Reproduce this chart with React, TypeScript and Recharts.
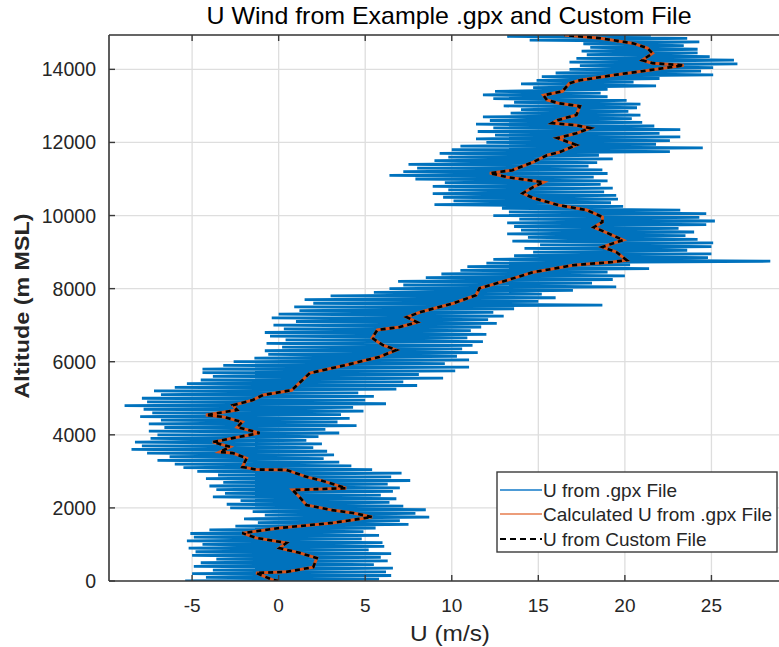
import React from 'react';
import { ComposedChart, Line, XAxis, YAxis, CartesianGrid } from 'recharts';

// ---- data ----
const xTicks = [-5, 0, 5, 10, 15, 20, 25];
const yTicks = [0, 2000, 4000, 6000, 8000, 10000, 12000, 14000];
const X_DOMAIN: [number, number] = [-9.8, 30];
const ALT_MAX = 14940;

// smoothed / custom-file profile (altitude m, U m/s)
const customAlt = [0, 30, 220, 250, 380, 630, 770, 900, 1040, 1180, 1310, 1450, 1590, 1750, 1860, 1940, 2080, 2300, 2490, 2540, 2760, 2850, 3040, 3050, 3120, 3360, 3500, 3530, 3670, 3800, 3910, 4050, 4210, 4350, 4490, 4540, 4680, 4810, 4950, 5090, 5220, 5420, 5690, 5910, 6130, 6320, 6460, 6650, 6870, 6950, 7080, 7220, 7360, 7600, 7820, 8010, 8230, 8450, 8640, 8730, 8780, 9000, 9140, 9330, 9520, 9680, 9820, 9960, 10150, 10280, 10480, 10610, 10780, 10910, 11050, 11160, 11240, 11460, 11650, 11730, 11930, 12120, 12250, 12390, 12470, 12530, 12610, 12750, 12990, 13070, 13160, 13290, 13400, 13620, 13700, 13840, 13950, 14030, 14110, 14170, 14250, 14440, 14580, 14710, 14850, 14940];
const customU = [0, -0.35, -1.3, 0.45, 2.0, 2.2, 1.2, 0.05, 0.45, -1.3, -2.1, 0.05, 3.1, 5.4, 4.3, 3.1, 1.6, 1.2, 0.8, 3.9, 2.4, 1.6, 0.45, -1.3, -2.1, -1.85, -2.65, -3.4, -2.8, -3.8, -2.65, -1.1, -2.4, -2.1, -3.2, -4.2, -2.4, -2.65, -1.5, -0.9, 0.75, 1.2, 1.8, 3.9, 5.8, 6.8, 6.0, 5.4, 5.7, 7.0, 8.0, 7.4, 8.2, 10.1, 11.4, 11.6, 13.2, 14.7, 17.0, 19.3, 20.1, 19.5, 18.7, 19.9, 19.0, 18.2, 18.7, 18.7, 17.8, 16.2, 14.7, 14.1, 14.7, 15.3, 13.2, 12.2, 13.5, 14.7, 15.5, 16.2, 17.2, 16.1, 17.2, 18.0, 17.2, 15.8, 16.1, 17.2, 17.4, 16.2, 15.5, 15.3, 16.4, 16.8, 17.4, 19.3, 21.0, 22.2, 23.4, 21.6, 21.0, 21.6, 21.3, 20.5, 18.6, 16.5];
const calcAlt = customAlt;
const calcU = customU;

// raw .gpx U, sampled every 50 m of altitude
const GPX_STEP = 50;
const gpxU = [
  -5.4, 5.8, -4.2, 6.5, -5.0, 6.2, -3.8, 6.6, -4.9, 5.5,
  -4.5, 6.3, -3.6, 5.9, -5.0, 6.5, -4.8, 5.2, -5.2, 6.1,
  -4.4, 6.0, -5.3, 4.8, -4.9, 5.8, -5.1, 4.9, -4.0, 5.6,
  -2.5, 7.5, -1.2, 7.0, -2.0, 8.7, -0.8, 7.9, -1.5, 8.5,
  -2.8, 7.2, -3.0, 6.4, -2.2, 6.8, -3.8, 5.9, -3.1, 6.6,
  -3.6, 7.0, -4.0, 6.3, -3.2, 7.6, -4.2, 6.5, -3.5, 7.1,
  -4.7, 5.4, -5.5, 4.2, -6.0, 3.5, -7.0, 2.6, -6.3, 3.2,
  -7.6, 2.8, -8.5, 2.0, -7.9, 2.5, -8.3, 1.6, -7.4, 2.3,
  -7.0, 3.5, -7.5, 2.7, -6.6, 4.5, -7.5, 3.4, -6.8, 4.1,
  -8.0, 3.6, -7.3, 4.9, -7.8, 4.3, -8.9, 6.2, -7.6, 5.0,
  -7.9, 5.5, -6.8, 4.6, -7.2, 6.8, -6.0, 8.0, -5.3, 7.2,
  -4.5, 9.5, -3.8, 8.1, -4.4, 10.2, -4.4, 11.0, -3.2, 9.6,
  -2.6, 11.0, -1.4, 10.3, -0.6, 11.5, -0.8, 10.6, 0.2, 11.2,
  -0.7, 11.8, 0.4, 10.9, -0.5, 12.0, -0.8, 11.1, 0.3, 11.7,
  -0.3, 12.6, 1.0, 12.1, -0.4, 13.0, 0.0, 12.4, 1.2, 13.6,
  0.9, 18.7, 2.0, 15.0, 1.5, 16.0, 3.0, 15.2, 5.5, 17.0,
  6.4, 19.5, 7.2, 18.1, 6.9, 19.3, 8.5, 20.0, 9.4, 19.0,
  10.5, 21.4, 10.9, 20.3, 12.0, 28.4, 12.4, 24.8, 13.6, 25.0,
  14.7, 23.6, 14.2, 25.0, 15.1, 25.1, 13.5, 24.2, 14.4, 23.5,
  13.2, 24.0, 14.0, 23.1, 13.6, 24.7, 13.2, 25.2, 13.9, 24.3,
  12.4, 24.7, 13.3, 23.2, 12.9, 19.9, 9.0, 19.2, 10.1, 19.6,
  9.5, 19.5, 8.9, 18.8, 9.8, 19.3, 8.9, 18.6, 9.6, 19.0,
  7.9, 18.2, 6.4, 19.0, 7.2, 18.7, 8.0, 17.9, 7.5, 18.4,
  9.0, 19.3, 9.8, 18.5, 9.3, 22.6, 10.0, 24.5, 10.5, 21.8,
  12.0, 22.6, 11.4, 23.2, 12.5, 22.0, 11.5, 23.2, 12.4, 21.7,
  11.4, 21.0, 12.2, 20.4, 11.8, 20.9, 13.4, 20.2, 14.0, 20.7,
  13.0, 20.9, 13.6, 20.1, 12.4, 19.0, 11.8, 18.6, 12.5, 19.0,
  14.7, 21.8, 14.0, 20.5, 14.9, 22.0, 15.2, 25.1, 16.0, 24.4,
  16.8, 25.1, 17.4, 26.5, 16.8, 26.3, 17.2, 24.9, 17.8, 24.2,
  17.5, 24.2, 18.0, 23.4, 17.6, 24.3, 14.5, 23.6, 13.2, 21.5,
];

const TITLE = 'U Wind from Example .gpx and Custom File';
const X_LABEL = 'U (m/s)';
const Y_LABEL = 'Altitude (m MSL)';
const LEGEND = ['U from .gpx File', 'Calculated U from .gpx File', 'U from Custom File'];

// ---- derived tables ----
const gpxData = gpxU.map((u, i) => ({ alt: Math.min(i * GPX_STEP, ALT_MAX), u }));
const calcData = calcAlt.map((alt, i) => ({ alt, u: calcU[i] }));
const customData = customAlt.map((alt, i) => ({ alt, u: customU[i] }));

const FONT = "'Liberation Sans', Arial, Helvetica, sans-serif";
const TXT = '#262626';
const AXIS = '#3a3a3a';
const BLUE = '#0072BD';
const ORANGE = '#D95319';

const BottomTick = (props: any) => {
  const { x, y, payload } = props;
  return (
    <g>
      <line x1={x} y1={y} x2={x} y2={y - 6} stroke={AXIS} strokeWidth={1.4} />
      <text x={x} y={y + 31} textAnchor="middle" fontFamily={FONT} fontSize={19} fill={TXT}>
        {payload.value}
      </text>
    </g>
  );
};

const TopTick = (props: any) => {
  const { x, y } = props;
  return <line x1={x} y1={y} x2={x} y2={y + 6} stroke={AXIS} strokeWidth={1.4} />;
};

const LeftTick = (props: any) => {
  const { x, y, payload } = props;
  return (
    <g>
      <line x1={x} y1={y} x2={x + 6} y2={y} stroke={AXIS} strokeWidth={1.4} />
      <text x={x - 13} y={y + 7} textAnchor="end" fontFamily={FONT} fontSize={19.5} fill={TXT}>
        {payload.value}
      </text>
    </g>
  );
};

export default function App() {
  return (
    <div style={{ position: 'absolute', left: 0, top: 0, width: 779, height: 647, overflow: 'hidden', background: '#fff' }}>
      <ComposedChart
        width={820}
        height={647}
        layout="vertical"
        margin={{ top: 34, right: 22, bottom: 65, left: 108 }}
      >
        <CartesianGrid stroke="#dedede" strokeWidth={1.3} xAxisId="b" yAxisId="l" />
        <XAxis
          xAxisId="b"
          type="number"
          orientation="bottom"
          domain={X_DOMAIN}
          ticks={xTicks}
          allowDataOverflow
          height={1}
          tickSize={0}
          tickMargin={0}
          tickLine={false}
          axisLine={{ stroke: AXIS, strokeWidth: 1.6 }}
          tick={<BottomTick />}
          interval={0}
        />
        <XAxis
          xAxisId="t"
          type="number"
          orientation="top"
          domain={X_DOMAIN}
          ticks={xTicks}
          allowDataOverflow
          height={1}
          tickSize={0}
          tickMargin={0}
          tickLine={false}
          axisLine={{ stroke: AXIS, strokeWidth: 1.6 }}
          tick={<TopTick />}
          interval={0}
        />
        <YAxis
          yAxisId="l"
          type="number"
          dataKey="alt"
          domain={[0, ALT_MAX]}
          ticks={yTicks}
          reversed
          allowDataOverflow
          width={1}
          tickSize={0}
          tickMargin={0}
          tickLine={false}
          axisLine={{ stroke: AXIS, strokeWidth: 1.6 }}
          tick={<LeftTick />}
          interval={0}
        />
        <Line
          xAxisId="b"
          yAxisId="l"
          data={gpxData}
          dataKey="u"
          type="linear"
          stroke={BLUE}
          strokeWidth={2.8}
          dot={false}
          activeDot={false}
          isAnimationActive={false}
        />
        <Line
          xAxisId="b"
          yAxisId="l"
          data={calcData}
          dataKey="u"
          type="linear"
          stroke={ORANGE}
          strokeWidth={3}
          dot={false}
          activeDot={false}
          isAnimationActive={false}
        />
        <Line
          xAxisId="b"
          yAxisId="l"
          data={customData}
          dataKey="u"
          type="linear"
          stroke="#000"
          strokeWidth={2.6}
          strokeDasharray="5 4"
          dot={false}
          activeDot={false}
          isAnimationActive={false}
        />
      </ComposedChart>

      <svg width={779} height={647} style={{ position: 'absolute', left: 0, top: 0, pointerEvents: 'none' }}>
        <text x={449} y={24} textAnchor="middle" fontFamily={FONT} fontSize={24} fill="#000" textLength={485} lengthAdjust="spacingAndGlyphs">
          {TITLE}
        </text>
        <text x={450} y={641} textAnchor="middle" fontFamily={FONT} fontSize={22} fill={TXT} textLength={80} lengthAdjust="spacingAndGlyphs">
          {X_LABEL}
        </text>
        <text
          x={0}
          y={0}
          transform="translate(29,306) rotate(-90)"
          textAnchor="middle"
          fontFamily={FONT}
          fontSize={20}
          fontWeight="bold"
          fill={TXT}
          textLength={185}
          lengthAdjust="spacingAndGlyphs"
        >
          {Y_LABEL}
        </text>
        <g>
          <rect x={497} y={472} width={280} height={80} fill="#fff" stroke={AXIS} strokeWidth={1.4} />
          <line x1={500} y1={490} x2={542} y2={490} stroke="#4d9bd6" strokeWidth={2} />
          <line x1={500} y1={514} x2={542} y2={514} stroke="#ec9d7a" strokeWidth={2} />
          <line x1={500} y1={539} x2={542} y2={539} stroke="#000" strokeWidth={2} strokeDasharray="6 4" />
          <text x={543} y={496.5} fontFamily={FONT} fontSize={19} fill={TXT}>{LEGEND[0]}</text>
          <text x={543} y={520.5} fontFamily={FONT} fontSize={19} fill={TXT}>{LEGEND[1]}</text>
          <text x={543} y={545.5} fontFamily={FONT} fontSize={19} fill={TXT}>{LEGEND[2]}</text>
        </g>
      </svg>
    </div>
  );
}
